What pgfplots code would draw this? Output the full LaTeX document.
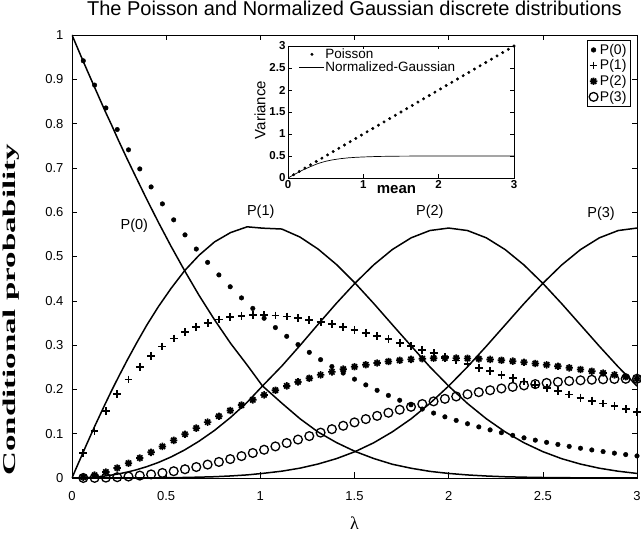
\documentclass[border=0pt]{standalone}
\usepackage{pgfplots}
\pgfplotsset{compat=1.18}
\usepackage{pgfplotstable}
\usepackage{graphicx}
\usepackage{fontspec}
\setmainfont{Liberation Sans}
\newfontfamily\timesfont{Liberation Serif}

\pgfdeclareplotmark{mstar}{%
  \pgfpathmoveto{\pgfqpoint{-\pgfplotmarksize}{0pt}}\pgfpathlineto{\pgfqpoint{\pgfplotmarksize}{0pt}}%
  \pgfpathmoveto{\pgfqpoint{0pt}{-\pgfplotmarksize}}\pgfpathlineto{\pgfqpoint{0pt}{\pgfplotmarksize}}%
  \pgfpathmoveto{\pgfqpoint{-0.7071\pgfplotmarksize}{-0.7071\pgfplotmarksize}}\pgfpathlineto{\pgfqpoint{0.7071\pgfplotmarksize}{0.7071\pgfplotmarksize}}%
  \pgfpathmoveto{\pgfqpoint{-0.7071\pgfplotmarksize}{0.7071\pgfplotmarksize}}\pgfpathlineto{\pgfqpoint{0.7071\pgfplotmarksize}{-0.7071\pgfplotmarksize}}%
  \pgfusepathqstroke}

\pgfplotsset{
  centermark/.style={legend image code/.code={\draw[mark repeat=2,mark phase=2,##1] plot coordinates {(0pt,0pt) (12.5pt,0pt) (25pt,0pt)};}},
  widemark/.style={legend image code/.code={\draw[mark repeat=2,mark phase=2,##1] plot coordinates {(0pt,0pt) (10pt,0pt) (20pt,0pt)};}},
  longline/.style={legend image code/.code={\draw[##1] (0pt,0pt) -- (25pt,0pt);}},
}

\pgfplotstableread{
lam p0 p1 p2 p3
0.06 0.94176 0.05651 0.00170 0.00003
0.12 0.88692 0.10643 0.00639 0.00026
0.18 0.83527 0.15035 0.01353 0.00081
0.24 0.78663 0.18879 0.02265 0.00181
0.30 0.74082 0.22225 0.03334 0.00333
0.36 0.69768 0.25116 0.04521 0.00543
0.42 0.65705 0.27596 0.05795 0.00811
0.48 0.61878 0.29701 0.07128 0.01140
0.54 0.58275 0.31469 0.08497 0.01529
0.60 0.54881 0.32929 0.09879 0.01976
0.66 0.51685 0.34112 0.11257 0.02477
0.72 0.48675 0.35046 0.12617 0.03028
0.78 0.45841 0.35756 0.13945 0.03626
0.84 0.43171 0.36264 0.15231 0.04265
0.90 0.40657 0.36591 0.16466 0.04940
0.96 0.38289 0.36757 0.17643 0.05646
1.02 0.36059 0.36780 0.18758 0.06378
1.08 0.33960 0.36677 0.19806 0.07130
1.14 0.31982 0.36459 0.20782 0.07897
1.20 0.30119 0.36143 0.21686 0.08674
1.26 0.28365 0.35740 0.22516 0.09457
1.32 0.26714 0.35262 0.23273 0.10240
1.38 0.25158 0.34718 0.23955 0.11019
1.44 0.23693 0.34118 0.24565 0.11791
1.50 0.22313 0.33470 0.25103 0.12552
1.56 0.21014 0.32782 0.25570 0.13296
1.62 0.19790 0.32060 0.25969 0.14023
1.68 0.18637 0.31310 0.26300 0.14728
1.74 0.17552 0.30540 0.26570 0.15411
1.80 0.16530 0.29754 0.26779 0.16067
1.86 0.15567 0.28955 0.26928 0.16695
1.92 0.14661 0.28149 0.27023 0.17295
1.98 0.13807 0.27338 0.27065 0.17863
2.04 0.13003 0.26526 0.27057 0.18399
2.10 0.12246 0.25717 0.27003 0.18902
2.16 0.11533 0.24911 0.26904 0.19371
2.22 0.10861 0.24111 0.26763 0.19805
2.28 0.10228 0.23320 0.26585 0.20205
2.34 0.09633 0.22541 0.26373 0.20571
2.40 0.09072 0.21773 0.26128 0.20902
2.46 0.08543 0.21016 0.25850 0.21197
2.52 0.08046 0.20276 0.25548 0.21460
2.58 0.07577 0.19549 0.25218 0.21687
2.64 0.07136 0.18839 0.24867 0.21883
2.70 0.06721 0.18147 0.24498 0.22048
2.76 0.06329 0.17468 0.24106 0.22178
2.82 0.05961 0.16809 0.23701 0.22279
2.88 0.05613 0.16165 0.23278 0.22347
2.94 0.05287 0.15543 0.22848 0.22391
3.00 0.04979 0.14936 0.22404 0.22404
}\poisson

\pgfplotstableread{
lam g0 g1 g2 g3
0 1 0 0 0
0.018 0.982 0.018 0.0000 0
0.048 0.952 0.047 0.0003 0
0.0775 0.923 0.0758 0.0008 0
0.123 0.879 0.119 0.0022 0
0.176 0.828 0.167 0.0046 0
0.210 0.797 0.197 0.0066 0
0.248 0.761 0.229 0.0094 0.0001
0.292 0.721 0.265 0.0132 0.0001
0.342 0.677 0.304 0.0185 0.0002
0.397 0.629 0.345 0.0256 0.0003
0.459 0.577 0.387 0.0351 0.0004
0.526 0.523 0.428 0.0475 0.0007
0.598 0.468 0.468 0.0633 0.0012
0.675 0.412 0.503 0.0832 0.0019
0.757 0.357 0.533 0.1075 0.0029
0.842 0.304 0.554 0.1367 0.0046
0.930 0.255 0.567 0.1709 0.0070
1.011 0.208 0.564 0.2075 0.0103
1.114 0.169 0.562 0.2527 0.0154
1.210 0.134 0.544 0.2988 0.0222
1.306 0.104 0.517 0.3466 0.0315
1.404 0.080 0.482 0.3944 0.0437
1.503 0.060 0.440 0.4399 0.0595
1.602 0.044 0.394 0.4811 0.0795
1.701 0.031 0.346 0.5158 0.1042
1.801 0.022 0.298 0.5422 0.1337
1.900 0.015 0.251 0.5586 0.1683
2.000 0.0103 0.2076 0.5642 0.2076
2.100 0.0069 0.1682 0.5586 0.2510
2.200 0.0045 0.1337 0.5421 0.2975
2.300 0.0028 0.1041 0.5156 0.3456
2.400 0.0018 0.0795 0.4808 0.3936
2.500 0.0011 0.0595 0.4394 0.4394
2.600 0.0007 0.0436 0.3936 0.4808
2.700 0.0004 0.0314 0.3456 0.5156
2.800 0.0002 0.0221 0.2975 0.5421
2.900 0.0001 0.0153 0.2510 0.5586
3.000 0.0001 0.0103 0.2076 0.5642
}\gauss

\pgfplotstableread{
m v
0.075 0.075
0.150 0.150
0.225 0.225
0.300 0.300
0.375 0.375
0.450 0.450
0.525 0.525
0.600 0.600
0.675 0.675
0.750 0.750
0.825 0.825
0.900 0.900
0.975 0.975
1.050 1.050
1.125 1.125
1.200 1.200
1.275 1.275
1.350 1.350
1.425 1.425
1.500 1.500
1.575 1.575
1.650 1.650
1.725 1.725
1.800 1.800
1.875 1.875
1.950 1.950
2.025 2.025
2.100 2.100
2.175 2.175
2.250 2.250
2.325 2.325
2.400 2.400
2.475 2.475
2.550 2.550
2.625 2.625
2.700 2.700
2.775 2.775
2.850 2.850
2.925 2.925
3.000 3.000
}\poisvar

\pgfplotstableread{
m v
0 0
0.05 0.048
0.10 0.095
0.15 0.140
0.20 0.185
0.30 0.260
0.40 0.330
0.50 0.380
0.60 0.415
0.70 0.440
0.80 0.458
0.90 0.470
1.00 0.478
1.20 0.490
1.50 0.497
2.00 0.500
3.00 0.500
}\gaussvar

\begin{document}
\begin{tikzpicture}
\path[use as bounding box] (0,0) rectangle (641pt,536pt);
\begin{axis}[
  at={(72pt,58pt)}, anchor=south west,
  width=565pt, height=443pt, scale only axis,
  xmin=0, xmax=3, ymin=0, ymax=1,
  xtick={0,0.5,1,1.5,2,2.5,3},
  ytick={0,0.1,0.2,0.3,0.4,0.5,0.6,0.7,0.8,0.9,1},
  tick align=inside, major tick length=5.5pt,
  tick style={black, line width=0.5pt},
  axis line style={line width=0.7pt},
  /pgf/number format/assume math mode=true,
  ticklabel style={font=\fontsize{13}{14}\selectfont},
  xticklabel style={yshift=-10pt},
  yticklabel style={xshift=-5pt},
  title={The Poisson and Normalized Gaussian discrete distributions},
  title style={font=\fontsize{20}{24}\selectfont, inner sep=0pt, at={(axis description cs:0.5,1.0305)}, anchor=base},
  xlabel={λ},
  xlabel style={font=\timesfont\fontsize{18}{20}\selectfont, at={(axis description cs:0.5,-0.103)}, anchor=center},
  ylabel={\scalebox{1.83}[1]{\bfseries Conditional probability}},
  ylabel style={font=\timesfont\fontsize{18}{20}\selectfont, at={(axis description cs:-0.108,0.38)}, anchor=center},
  legend style={at={(axis description cs:0.988,0.988)}, anchor=north east, draw=black, line width=0.6pt,
    font=\fontsize{14}{15}\selectfont, inner sep=1.5pt, row sep=0pt},
  legend cell align=left,
]
\addplot[only marks, mark=*, mark size=2.3pt, black, widemark] table[x=lam,y=p0]{\poisson};
\addlegendentry{P(0)}
\addplot[only marks, mark=+, mark size=3.9pt, line width=1.8pt, black, widemark] table[x=lam,y=p1]{\poisson};
\addlegendentry{P(1)}
\addplot[only marks, mark=mstar, mark size=3.7pt, line width=1.7pt, black, widemark] table[x=lam,y=p2]{\poisson};
\addlegendentry{P(2)}
\addplot[only marks, mark=o, mark size=4.4pt, line width=1.3pt, black, widemark] table[x=lam,y=p3]{\poisson};
\addlegendentry{P(3)}
\addplot[black, line width=1.5pt, forget plot] table[x=lam,y=g0]{\gauss};
\addplot[black, line width=1.5pt, forget plot] table[x=lam,y=g1]{\gauss};
\addplot[black, line width=1.5pt, forget plot] table[x=lam,y=g2]{\gauss};
\addplot[black, line width=1.5pt, forget plot] table[x=lam,y=g3]{\gauss};
\node[font=\fontsize{14.5}{15}\selectfont] at (axis cs:0.331,0.570) {P(0)};
\node[font=\fontsize{14.5}{15}\selectfont] at (axis cs:1.002,0.602) {P(1)};
\node[font=\fontsize{14.5}{15}\selectfont] at (axis cs:1.900,0.602) {P(2)};
\node[font=\fontsize{14.5}{15}\selectfont] at (axis cs:2.809,0.597) {P(3)};
\end{axis}

\begin{axis}[
  at={(288pt,358pt)}, anchor=south west,
  width=226pt, height=132pt, scale only axis,
  xmin=0, xmax=3, ymin=0, ymax=3,
  xtick={0,1,2,3}, ytick={0,0.5,1,1.5,2,2.5,3},
  tick align=inside, major tick length=3.5pt,
  tick style={black, line width=0.5pt},
  axis line style={line width=0.7pt},
  axis background/.style={fill=white},
  /pgf/number format/assume math mode=true,
  ticklabel style={font=\bfseries\fontsize{11.5}{12}\selectfont},
  xticklabel style={yshift=1pt},
  yticklabel style={xshift=1pt},
  xlabel={mean},
  xlabel style={font=\bfseries\fontsize{15}{16}\selectfont, at={(axis description cs:0.48,-0.09)}, anchor=center},
  ylabel={Variance},
  ylabel style={font=\fontsize{15}{16}\selectfont, at={(axis description cs:-0.124,0.515)}, anchor=center},
  legend style={at={(axis description cs:0.035,0.995)}, anchor=north west, draw=none, fill=none,
    font=\fontsize{13.5}{14}\selectfont, nodes={inner sep=0.5pt, text height=9.5pt, text depth=0.5pt}, row sep=2pt},
  legend cell align=left,
]
\addplot[only marks, mark=*, mark size=1.3pt, black, centermark] table[x=m,y=v]{\poisvar};
\addlegendentry{Poisson}
\addplot[black, line width=0.7pt, longline] table[x=m,y=v]{\gaussvar};
\addlegendentry{Normalized-Gaussian}
\end{axis}
\end{tikzpicture}
\end{document}
